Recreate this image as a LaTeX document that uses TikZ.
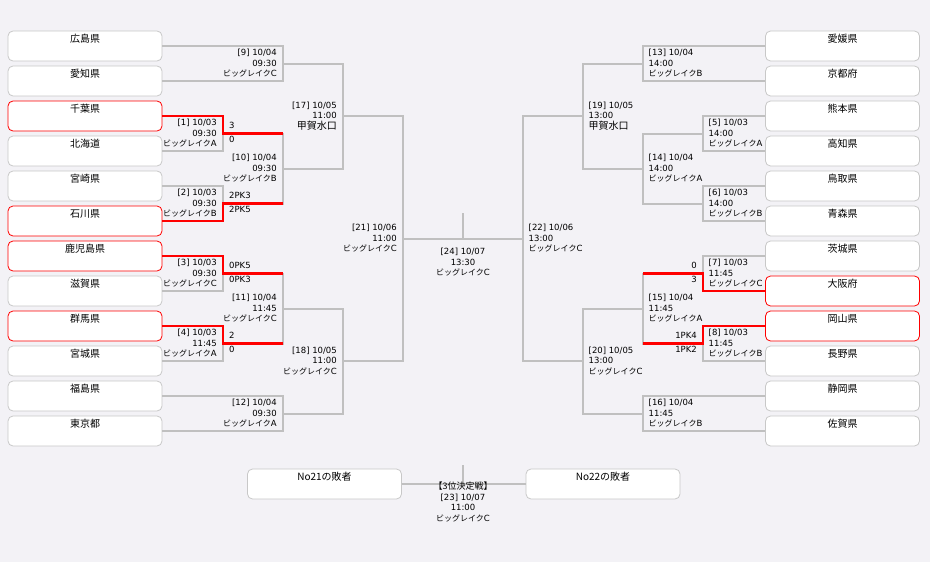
\documentclass[tikz,border=0pt]{standalone}
\usepackage{fontspec}
\setmainfont{DejaVu Sans}
\newfontfamily\jp{Noto Sans CJK JP}
\usepackage{tikz}
\usetikzlibrary{backgrounds}
\definecolor{bgcolor}{RGB}{243,242,246}
\definecolor{linecolor}{RGB}{192,192,192}
\definecolor{boxcolor}{RGB}{200,200,200}
\newcommand{\wincolor}{red}
\newcommand{\thickness}{2pt}
\newcommand{\bl}{{\jp\fontsize{8}{10.5}\selectfont ビッグレイク}}
\newcommand{\venue}{{\jp\fontsize{10}{10.5}\selectfont 甲賀水口}}
\tikzset{
  team/.style={draw=boxcolor, fill=white, rounded corners=5pt, line width=0.8pt,
    minimum width=154pt, inner xsep=0pt, inner ysep=3pt,
    text height=8.5pt, text depth=15.5pt, font=\jp\fontsize{10}{10}\selectfont},
  winteam/.style={team, draw=\wincolor},
  info/.style={inner sep=0pt, font=\fontsize{8.5}{10.5}\selectfont},
  infol/.style={info, anchor=east, align=right},
  infor/.style={info, anchor=west, align=left},
  scorel/.style={inner sep=0pt, anchor=west, font=\fontsize{8.5}{8}\selectfont},
  scorer/.style={inner sep=0pt, anchor=east, font=\fontsize{8.5}{8}\selectfont},
  bracket/.style={draw=linecolor, line width=\thickness},
  win/.style={draw=\wincolor, line width=1.2*\thickness}
}

\begin{document}
\begin{tikzpicture}[x=1pt,y=-1pt]
\fill[bgcolor] (0,0) rectangle (930,562);
%teams left
\node[team] (t1) at (85,46) {広島県};
\node[team] (t2) at (85,81) {愛知県};
\node[winteam] (t3) at (85,116) {千葉県};
\node[team] (t4) at (85,151) {北海道};
\node[team] (t5) at (85,186) {宮崎県};
\node[winteam] (t6) at (85,221) {石川県};
\node[winteam] (t7) at (85,256) {鹿児島県};
\node[team] (t8) at (85,291) {滋賀県};
\node[winteam] (t9) at (85,326) {群馬県};
\node[team] (t10) at (85,361) {宮城県};
\node[team] (t11) at (85,396) {福島県};
\node[team] (t12) at (85,431) {東京都};
%teams right
\node[team] (t13) at (842.5,46) {愛媛県};
\node[team] (t14) at (842.5,81) {京都府};
\node[team] (t15) at (842.5,116) {熊本県};
\node[team] (t16) at (842.5,151) {高知県};
\node[team] (t17) at (842.5,186) {鳥取県};
\node[team] (t18) at (842.5,221) {青森県};
\node[team] (t19) at (842.5,256) {茨城県};
\node[winteam] (t20) at (842.5,291) {大阪府};
\node[winteam] (t21) at (842.5,326) {岡山県};
\node[team] (t22) at (842.5,361) {長野県};
\node[team] (t23) at (842.5,396) {静岡県};
\node[team] (t24) at (842.5,431) {佐賀県};
%losers of semi finals
\node[team] (n21) at (324.5,484) {No21の敗者};
\node[team] (n22) at (603,484) {No22の敗者};
%match points
\coordinate (m1) at (223,133.5);
\coordinate (m2) at (223,203.5);
\coordinate (m3) at (223,273.5);
\coordinate (m4) at (223,343.5);
\coordinate (m9) at (283,63.5);
\coordinate (m10) at (283,168.5);
\coordinate (m11) at (283,308.5);
\coordinate (m12) at (283,413.5);
\coordinate (m17) at (343,116);
\coordinate (m18) at (343,361);
\coordinate (m21) at (403,238.5);
\coordinate (m5) at (703,133.5);
\coordinate (m6) at (703,203.5);
\coordinate (m7) at (703,273.5);
\coordinate (m8) at (703,343.5);
\coordinate (m13) at (643,63.5);
\coordinate (m14) at (643,168.5);
\coordinate (m15) at (643,308.5);
\coordinate (m16) at (643,413.5);
\coordinate (m19) at (583,116);
\coordinate (m20) at (583,361);
\coordinate (m22) at (523,238.5);
\coordinate (m24) at (463,238.5);
\coordinate (c24) at (463,213);
\coordinate (c23) at (463,465);
%brackets left
\draw[bracket] (t1.east) -| (m9) |- (t2.east);
\draw[bracket] (t3.east) -| (m1) |- (t4.east);
\draw[bracket] (t5.east) -| (m2) |- (t6.east);
\draw[bracket] (t7.east) -| (m3) |- (t8.east);
\draw[bracket] (t9.east) -| (m4) |- (t10.east);
\draw[bracket] (t11.east) -| (m12) |- (t12.east);
\draw[bracket] (m1) -| (m10) |- (m2);
\draw[bracket] (m3) -| (m11) |- (m4);
\draw[bracket] (m9) -| (m17) |- (m10);
\draw[bracket] (m11) -| (m18) |- (m12);
\draw[bracket] (m17) -| (m21) |- (m18);
%brackets right
\draw[bracket] (t13.west) -| (m13) |- (t14.west);
\draw[bracket] (t15.west) -| (m5) |- (t16.west);
\draw[bracket] (t17.west) -| (m6) |- (t18.west);
\draw[bracket] (t19.west) -| (m7) |- (t20.west);
\draw[bracket] (t21.west) -| (m8) |- (t22.west);
\draw[bracket] (t23.west) -| (m16) |- (t24.west);
\draw[bracket] (m5) -| (m14) |- (m6);
\draw[bracket] (m7) -| (m15) |- (m8);
\draw[bracket] (m13) -| (m19) |- (m14);
\draw[bracket] (m15) -| (m20) |- (m16);
\draw[bracket] (m19) -| (m22) |- (m20);
%final
\draw[bracket] (m21) -- (m22);
\draw[bracket] (c24) -- (m24);
%3rd place
\draw[bracket] (n21.east) -- (n22.west);
\draw[bracket] (c23) -- (c23 |- n21.east);
%winners
\draw[win] (t3.east) -| (m1) -- (m1 -| m10);
\draw[win] (t6.east) -| (m2) -- (m2 -| m10);
\draw[win] (t7.east) -| (m3) -- (m3 -| m11);
\draw[win] (t9.east) -| (m4) -- (m4 -| m11);
\draw[win] (t20.west) -| (m7) -- (m7 -| m15);
\draw[win] (t21.west) -| (m8) -- (m8 -| m15);
%labels left
\node[infol] (i1) at ([xshift=-6pt]m1) {[1] 10/03\\09:30\\\bl A};
\node[infol] (i2) at ([xshift=-6pt]m2) {[2] 10/03\\09:30\\\bl B};
\node[infol] (i3) at ([xshift=-6pt]m3) {[3] 10/03\\09:30\\\bl C};
\node[infol] (i4) at ([xshift=-6pt]m4) {[4] 10/03\\11:45\\\bl A};
\node[infol] (i9) at ([xshift=-6pt]m9) {[9] 10/04\\09:30\\\bl C};
\node[infol] (i10) at ([xshift=-6pt]m10) {[10] 10/04\\09:30\\\bl B};
\node[infol] (i11) at ([xshift=-6pt]m11) {[11] 10/04\\11:45\\\bl C};
\node[infol] (i12) at ([xshift=-6pt]m12) {[12] 10/04\\09:30\\\bl A};
\node[infol] (i17) at ([xshift=-6pt]m17) {[17] 10/05\\11:00\\\venue};
\node[infol] (i18) at ([xshift=-6pt]m18) {[18] 10/05\\11:00\\\bl C};
\node[infol] (i21) at ([xshift=-6pt]m21) {[21] 10/06\\11:00\\\bl C};
%labels right
\node[infor] (i5) at ([xshift=5.5pt]m5) {[5] 10/03\\14:00\\\bl A};
\node[infor] (i6) at ([xshift=5.5pt]m6) {[6] 10/03\\14:00\\\bl B};
\node[infor] (i7) at ([xshift=5.5pt]m7) {[7] 10/03\\11:45\\\bl C};
\node[infor] (i8) at ([xshift=5.5pt]m8) {[8] 10/03\\11:45\\\bl B};
\node[infor] (i13) at ([xshift=5.5pt]m13) {[13] 10/04\\14:00\\\bl B};
\node[infor] (i14) at ([xshift=5.5pt]m14) {[14] 10/04\\14:00\\\bl A};
\node[infor] (i15) at ([xshift=5.5pt]m15) {[15] 10/04\\11:45\\\bl A};
\node[infor] (i16) at ([xshift=5.5pt]m16) {[16] 10/04\\11:45\\\bl B};
\node[infor] (i19) at ([xshift=5.5pt]m19) {[19] 10/05\\13:00\\\venue};
\node[infor] (i20) at ([xshift=5.5pt]m20) {[20] 10/05\\13:00\\\bl C};
\node[infor] (i22) at ([xshift=5.5pt]m22) {[22] 10/06\\13:00\\\bl C};
%center
\node[info, anchor=north, align=center] (i24) at ([yshift=-9.5pt]m24) {[24] 10/07\\13:30\\\bl C};
\node[info, anchor=north, align=center] (i23) at (463,482) {{\jp\fontsize{9}{10.5}\selectfont 【3位決定戦】}\\{[23]} 10/07\\11:00\\\bl C};
%scores
\node[scorel] (s1a) at ([shift={(6,-8)}]m1) {3};
\node[scorel] (s1b) at ([shift={(6,6)}]m1) {0};
\node[scorel] (s2a) at ([shift={(6,-8)}]m2) {2PK3};
\node[scorel] (s2b) at ([shift={(6,6)}]m2) {2PK5};
\node[scorel] (s3a) at ([shift={(6,-8)}]m3) {0PK5};
\node[scorel] (s3b) at ([shift={(6,6)}]m3) {0PK3};
\node[scorel] (s4a) at ([shift={(6,-8)}]m4) {2};
\node[scorel] (s4b) at ([shift={(6,6)}]m4) {0};
\node[scorer] (s7a) at ([shift={(-6,-8)}]m7) {0};
\node[scorer] (s7b) at ([shift={(-6,6)}]m7) {3};
\node[scorer] (s8a) at ([shift={(-6,-8)}]m8) {1PK4};
\node[scorer] (s8b) at ([shift={(-6,6)}]m8) {1PK2};
\end{tikzpicture}
\end{document}
